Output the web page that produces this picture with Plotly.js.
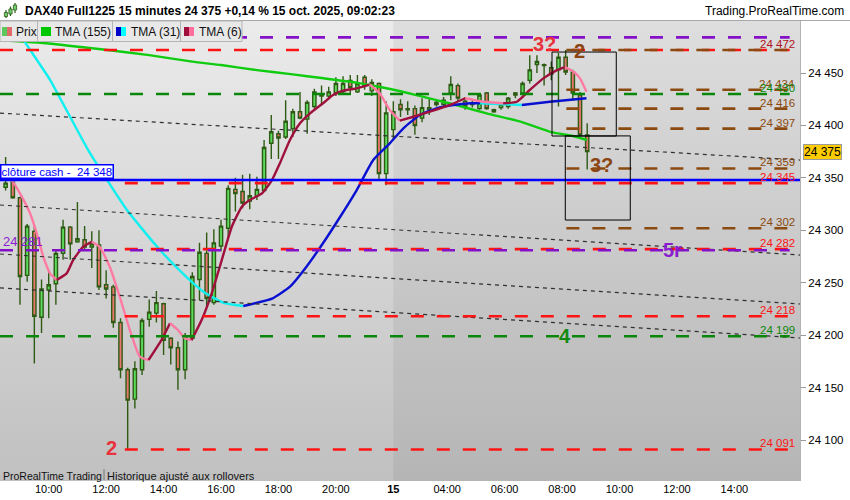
<!DOCTYPE html>
<html><head><meta charset="utf-8">
<script src="https://cdn.plot.ly/plotly-3.0.1.min.js"></script>
<style>
body{margin:0;background:#fff;}
#wrap{position:relative;width:850px;height:500px;overflow:hidden;background:#fff;}
#bg{position:absolute;left:0;top:21px;width:800px;height:460px;background:linear-gradient(#ebebeb,#c0c0c0);}
#chart{position:absolute;left:0;top:0;width:850px;height:500px;}
</style></head><body>
<div id="wrap"><div id="bg"></div><div id="chart"></div></div>
<script>
// ---------- DATA ----------
const candleIdx = [-6,-5,-4,-3,-2,-1,0,1,2,3,4,5,6,7,8,9,10,11,12,13,14,15,16,17,18,19,20,21,22,23,24,25,26,27,28,29,30,31,32,33,34,35,36,37,38,39,40,41,42,43,44,45,46,47,48,49,50,51,52,53,54,55,56,57,58,59,60,61,62,63,64,65,66,67,68,69,70,71,72,73,74,75];
const openP = [24341,24346,24331,24257,24299,24217,
 24243,24249,24278,24303,24289,24291,24284,24286,24248,24246,
 24212,24167,24139,24167,24215,24221,24230,24197,24188,24167,
 24197,24253,24278,24231,24285,24302,24339,24337,24328,24333,
 24338,24383,24392,24389,24397,24413,24406,24418,24428,24428,
 24431,24432,24443,24432,24446,24433,24440,24354,24396,24420,
 24415,24416,24407,24415,24420,24420,24431,24438,24423,24420,
 24416,24431,24415,24417,24418,24429,24431,24443,24458,24457,
 24455,24453,24465,24451,24429,24391];
const highP = [24370,24362,24332,24306,24305,24253,
 24262,24281,24310,24304,24327,24304,24299,24300,24262,24248,
 24216,24169,24175,24216,24234,24242,24231,24198,24194,24202,
 24260,24288,24298,24301,24310,24343,24350,24353,24354,24351,
 24386,24410,24395,24424,24416,24432,24424,24435,24438,24437,
 24446,24447,24448,24448,24448,24444,24441,24423,24423,24425,
 24423,24419,24426,24426,24424,24427,24447,24440,24427,24424,
 24431,24432,24416,24422,24427,24432,24442,24467,24467,24459,
 24461,24469,24472,24453,24432,24402];
const lowP = [24338,24330,24229,24251,24173,24202,
 24216,24229,24272,24272,24288,24281,24264,24243,24235,24207,
 24159,24091,24130,24162,24208,24212,24181,24172,24148,24158,
 24195,24233,24227,24229,24280,24292,24318,24321,24320,24329,
 24337,24368,24368,24387,24389,24406,24392,24416,24419,24425,
 24428,24429,24429,24431,24434,24428,24348,24343,24386,24408,
 24410,24391,24403,24410,24418,24418,24424,24423,24415,24417,
 24415,24415,24412,24415,24416,24426,24429,24440,24450,24438,
 24443,24418,24448,24424,24390,24358];
const closeP = [24345,24331,24256,24304,24218,24244,
 24248,24278,24303,24287,24292,24284,24287,24246,24244,24212,
 24167,24138,24168,24214,24222,24231,24195,24188,24167,24198,
 24256,24279,24235,24288,24304,24340,24335,24326,24333,24339,
 24379,24394,24388,24404,24413,24407,24422,24432,24430,24432,
 24440,24440,24436,24440,24438,24441,24354,24412,24413,24415,
 24416,24400,24417,24417,24422,24424,24439,24426,24418,24421,
 24429,24416,24413,24420,24426,24431,24440,24453,24461,24458,
 24449,24465,24451,24431,24391,24375];

// TMA (155)
const tma155X = [-6.8,0,7,14,20,24,29,34,38,43,46,49,54,57,61,66,70,73,75];
const tma155Y = [24481.5,24478.2,24472.9,24467.1,24460.8,24457.6,24452.8,24448.7,24445.2,24440.6,24436.9,24432.6,24424.2,24419.0,24411.5,24403.0,24393.7,24389.9,24386.1];
// TMA (31)
const tma31X = [-4.6,-3.3,0.2,5.5,10.9,15.5,19.2,21.8,24.3,27.1,31.2,33.6,35.9,38.2,40.6,42.9,45.2,47.5,49.4,51.7,54,56.4,58.7,60.1,65.9,69.8,74.9];
const tma31Y = [24495,24479.5,24443.3,24376.5,24319.3,24281.2,24255.4,24240.2,24231.1,24227.8,24235.1,24246.2,24265.3,24287.6,24312.9,24338.4,24367.0,24382.9,24397.3,24409.9,24416.3,24419.5,24421.1,24421.2,24419.5,24422.6,24425.9];
// TMA (6)
const tma6X = [-6.8,-5.15,-4.0,-2.6,-1.67,-0.75,0.18,1.11,2.5,3.4,4.8,6.0,7.1,8.5,9.9,11.3,12.7,13.9,15.7,16.9,18.0,19.0,19.9,21.3,22.7,24.1,25.5,26.9,28.0,29.7,31.1,32.2,33.6,35.0,36.4,38.2,39.6,41.0,42.9,44.7,46.1,47.5,48.9,50.8,53.1,55.9,58.0,60.5,63.3,65.2,67.0,68.9,70.8,71.9,73.1,74.0,74.9];
const tma6Y = [24362,24347.9,24335.2,24316.2,24297.1,24274.8,24258.9,24252.6,24258.9,24271.6,24284.3,24289.1,24284.3,24265.2,24236.6,24204.9,24179.4,24176.3,24195.3,24211.3,24204.9,24197.0,24195.3,24214.4,24239.9,24271.6,24303.4,24322.5,24328.9,24335.2,24347.9,24363.9,24386.1,24402.0,24411.5,24421.1,24429.0,24433.1,24435.4,24439.0,24430.6,24414.7,24404.5,24408.3,24413.1,24419.5,24425.9,24422.6,24421.1,24422.6,24433.8,24444.9,24452.8,24455.7,24451.2,24444.9,24432.1];

// Horizontal levels
const levelVals     = [24484,24472,24472,24434,24430,24416,24397,24359,24345,24302,24282,24281,24218,24199,24091];
const levelStartIdx = [null,null,72.1,72.1,null,72.1,72.1,72.1,10.6,72.1,10.6,null,10.6,null,10.6];
const levelKind     = ['purple','red','brown','brown','green','brown','brown','brown','red','brown','red','purple','red','green','red'];
const labelVals  = [24472,24434,24430,24416,24397,24359,24345,24302,24282,24218,24199,24091];
const labelKind  = ['dred','brown','green','brown','brown','brown','red','brown','red','red','green','red'];
const cashClose = 24348;
const leftLabelVal = 24281;
const lastPrice = 24375;

// Channel (dotted) lines: value at left edge and right edge
const channelStart = [24411.8,24324.1,24277.4,24245.0];
const channelEnd   = [24367.0,24276.4,24229.7,24197.3];

// Boxes
const boxX0 = [70.1,71.95], boxX1 = [79.05,81.0];
const boxY0 = [24470,24390], boxY1 = [24389.9,24309.8];

// Wave marks
const markText = ['3?','2','3?','5r','4','2'];
const markX = [69.1,73.9,77.0,86.9,71.9,8.8];
const markY = [24477.6,24471,24362.2,24281.2,24199.2,24092.3];
const markKind = ['red','brown','brown','purple','green','red'];

// Axis ticks
const xTickVals = [0,8,16,24,32,40,48,55.5,63.5,71.5,79.5,87.5,95.5];
const xTickText = ['10:00','12:00','14:00','16:00','18:00','20:00','<b>15</b>','04:00','06:00','08:00','10:00','12:00','14:00'];
const yTickVals = [24100,24150,24200,24250,24300,24350,24400,24450];

// ---------- STYLE ----------
const COL = {purple:'#8410c8', red:'#ff1414', brown:'#8b4a10', green:'#0a870a', dred:'#b0101c'};
const MARKCOL = {red:'#e8323c', brown:'#8b4513', purple:'#8a1ccf', green:'#128a12'};
const xMin = -6.783, xMax = 104.64, lvlEnd = 103.2;
const PX = x => x/800, PY = y => (481 - y)/460;
const fmt = n => String(n).replace(/(\d+)(\d{3})$/, '$1 $2');
const FONT = 'Liberation Sans, Arial, sans-serif';

function colorSegments(xs, ys, up, down, width){
  const out = []; let cur = null;
  for (let k=0;k<xs.length-1;k++){
    const c = ys[k+1] >= ys[k] ? up : down;
    if (!cur || cur.line.color !== c){
      cur = {type:'scatter',mode:'lines',x:[xs[k]],y:[ys[k]],line:{color:c,width:width,shape:'spline',smoothing:0.5},hoverinfo:'skip',showlegend:false};
      out.push(cur);
    }
    cur.x.push(xs[k+1]); cur.y.push(ys[k+1]);
  }
  return out;
}

const traces = [];
traces.push({
  type:'candlestick', x:candleIdx, open:openP, high:highP, low:lowP, close:closeP,
  increasing:{fillcolor:'#5cdc5c', line:{color:'#2e5b14', width:1.4}},
  decreasing:{fillcolor:'#e8766e', line:{color:'#2e5b14', width:1.4}},
  whiskerwidth:0, hoverinfo:'skip', showlegend:false
});
traces.push({type:'scatter',mode:'lines',x:tma155X,y:tma155Y,line:{color:'#10cc10',width:2.4,shape:'spline',smoothing:0.5},hoverinfo:'skip',showlegend:false});
colorSegments(tma31X, tma31Y, '#0a10d0', '#10f0f0', 2.4).forEach(t=>traces.push(t));
colorSegments(tma6X, tma6Y, '#a0103c', '#ff7aa2', 2.4).forEach(t=>traces.push(t));

const shapes = [];
shapes.push({type:'rect',xref:'x',yref:'paper',x0:48,x1:xMax,y0:0,y1:1,fillcolor:'rgba(0,0,0,0.055)',line:{width:0},layer:'below'});
channelStart.forEach((v,k)=>shapes.push({type:'line',xref:'paper',yref:'y',x0:0,x1:1,y0:v,y1:channelEnd[k],line:{color:'#303030',width:1.2,dash:'4px,4px'},layer:'above'}));
levelVals.forEach((v,k)=>{
  const s = levelStartIdx[k]===null ? xMin : levelStartIdx[k];
  shapes.push({type:'line',xref:'x',yref:'y',x0:s,x1:lvlEnd,y0:v,y1:v,line:{color:COL[levelKind[k]],width:2.6,dash:'13px,13px'},layer:'above'});
});
shapes.push({type:'line',xref:'paper',yref:'y',x0:0,x1:1,y0:cashClose,y1:cashClose,line:{color:'#0000ff',width:2.5},layer:'above'});
boxX0.forEach((x0,k)=>shapes.push({type:'rect',xref:'x',yref:'y',x0:x0,x1:boxX1[k],y0:boxY0[k],y1:boxY1[k],line:{color:'#000',width:1},fillcolor:'rgba(0,0,0,0)',layer:'above'}));
shapes.push({type:'line',xref:'paper',yref:'paper',x0:0,x1:PX(850),y0:PY(20.5),y1:PY(20.5),line:{color:'#a8a8a8',width:1}});
[[0,37.5],[37.5,112.5],[112.5,180.5],[180.5,242]].forEach(b=>shapes.push({type:'rect',xref:'paper',yref:'paper',x0:PX(b[0]),x1:PX(b[1]),y0:PY(41.5),y1:PY(21),fillcolor:'#e8e8e8',line:{color:'#b4b4b4',width:1},layer:'above'}));
const sw = (x0,x1,c)=>shapes.push({type:'rect',xref:'paper',yref:'paper',x0:PX(x0),x1:PX(x1),y0:PY(36),y1:PY(27),fillcolor:c,line:{width:0},layer:'above'});
sw(2,7,'#5cc85c'); sw(7,12,'#e06a6a');
sw(41,51,'#00c800');
sw(116,121,'#0000c8'); sw(121,126,'#00ffff');
sw(184,189,'#a0103c'); sw(189,194,'#ff6e9c');
[[6,10,18,12.5,16.5],[10.5,6.5,16,9,14],[15,3,13,5,10]].forEach(c=>{
  shapes.push({type:'line',xref:'paper',yref:'paper',x0:PX(c[0]),x1:PX(c[0]),y0:PY(c[2]),y1:PY(c[1]),line:{color:'#2e5b14',width:1.2}});
  shapes.push({type:'rect',xref:'paper',yref:'paper',x0:PX(c[0]-1.6),x1:PX(c[0]+1.6),y0:PY(c[4]),y1:PY(c[3]),fillcolor:'#6fcf6f',line:{color:'#2e5b14',width:0.8}});
});
shapes.push({type:'line',xref:'paper',yref:'paper',x0:PX(104),x1:PX(104),y0:PY(480),y1:PY(469),line:{color:'#777',width:1}});

const ann = [];
ann.push({xref:'paper',yref:'paper',x:PX(23),y:PY(11),xanchor:'left',yanchor:'middle',showarrow:false,text:'<b>DAX40 Full1225 15 minutes 24 375 +0,14 % 15 oct. 2025, 09:02:23</b>',font:{size:12,color:'#000',family:FONT}});
ann.push({xref:'paper',yref:'paper',x:PX(846),y:PY(11),xanchor:'right',yanchor:'middle',showarrow:false,text:'Trading.ProRealTime.com',font:{size:12,color:'#000',family:FONT}});
[[14,'Prix'],[53,'TMA (155)'],[129,'TMA (31)'],[197,'TMA (6)']].forEach(l=>ann.push({xref:'paper',yref:'paper',x:PX(l[0]),y:PY(31.5),xanchor:'left',yanchor:'middle',showarrow:false,text:l[1],font:{size:12,color:'#111',family:FONT}}));
ann.push({xref:'paper',yref:'paper',x:PX(1),y:PY(476),xanchor:'left',yanchor:'middle',showarrow:false,text:'ProRealTime Trading',font:{size:10.5,color:'#111',family:FONT}});
ann.push({xref:'paper',yref:'paper',x:PX(105),y:PY(476),xanchor:'left',yanchor:'middle',showarrow:false,text:'Historique ajusté aux rollovers',font:{size:11,color:'#111',family:FONT}});
labelVals.forEach((v,k)=>ann.push({xref:'paper',yref:'y',x:PX(797),y:v,xanchor:'right',yanchor:'bottom',yshift:-2,showarrow:false,text:fmt(v),font:{size:11.5,color:COL[labelKind[k]],family:FONT}}));
markText.forEach((t,k)=>ann.push({xref:'x',yref:'y',x:markX[k],y:markY[k],xanchor:'center',yanchor:'middle',showarrow:false,text:'<b>'+t+'</b>',font:{size:20,color:MARKCOL[markKind[k]],family:FONT}}));
ann.push({xref:'paper',yref:'y',x:0,y:cashClose,xanchor:'left',yanchor:'bottom',yshift:1,showarrow:false,text:'clôture cash -\u00a0\u00a0'+fmt(cashClose),bgcolor:'#ffffff',bordercolor:'#0000ff',borderwidth:1.5,borderpad:0,font:{size:11.5,color:'#0000ff',family:FONT}});
ann.push({xref:'paper',yref:'y',x:PX(1),y:leftLabelVal,xanchor:'left',yanchor:'bottom',yshift:-1,showarrow:false,text:fmt(leftLabelVal),font:{size:13,color:'#8a1ccf',family:FONT}});
ann.push({xref:'paper',yref:'y',x:1,y:lastPrice,xanchor:'left',xshift:3,yanchor:'middle',showarrow:false,text:fmt(lastPrice),bgcolor:'#ffcc00',bordercolor:'#9a9a9a',borderwidth:1,borderpad:0,font:{size:12,color:'#000',family:FONT}});

const layout = {
  width:850,height:500,
  margin:{l:0,r:50,t:21,b:19,autoexpand:false},
  paper_bgcolor:'rgba(0,0,0,0)',plot_bgcolor:'rgba(0,0,0,0)',
  showlegend:false,hovermode:false,dragmode:false,boxgap:0.35,
  font:{family:FONT,size:11,color:'#000'},
  xaxis:{range:[xMin,xMax],tickmode:'array',tickvals:xTickVals,ticktext:xTickText,ticks:'',showgrid:false,zeroline:false,showline:false,rangeslider:{visible:false},fixedrange:true,tickfont:{size:11,color:'#000',family:FONT}},
  yaxis:{side:'right',range:[24060.9,24499.6],tickmode:'array',tickvals:yTickVals,ticktext:yTickVals.map(fmt),ticks:'outside',ticklen:5,tickcolor:'#9a9a9a',showgrid:false,zeroline:false,showline:true,linecolor:'#b4b4b4',linewidth:1,fixedrange:true,tickfont:{size:11.5,color:'#000',family:FONT}},
  shapes:shapes, annotations:ann
};
Plotly.newPlot('chart', traces, layout, {displayModeBar:false,staticPlot:true});
</script>
</body></html>
